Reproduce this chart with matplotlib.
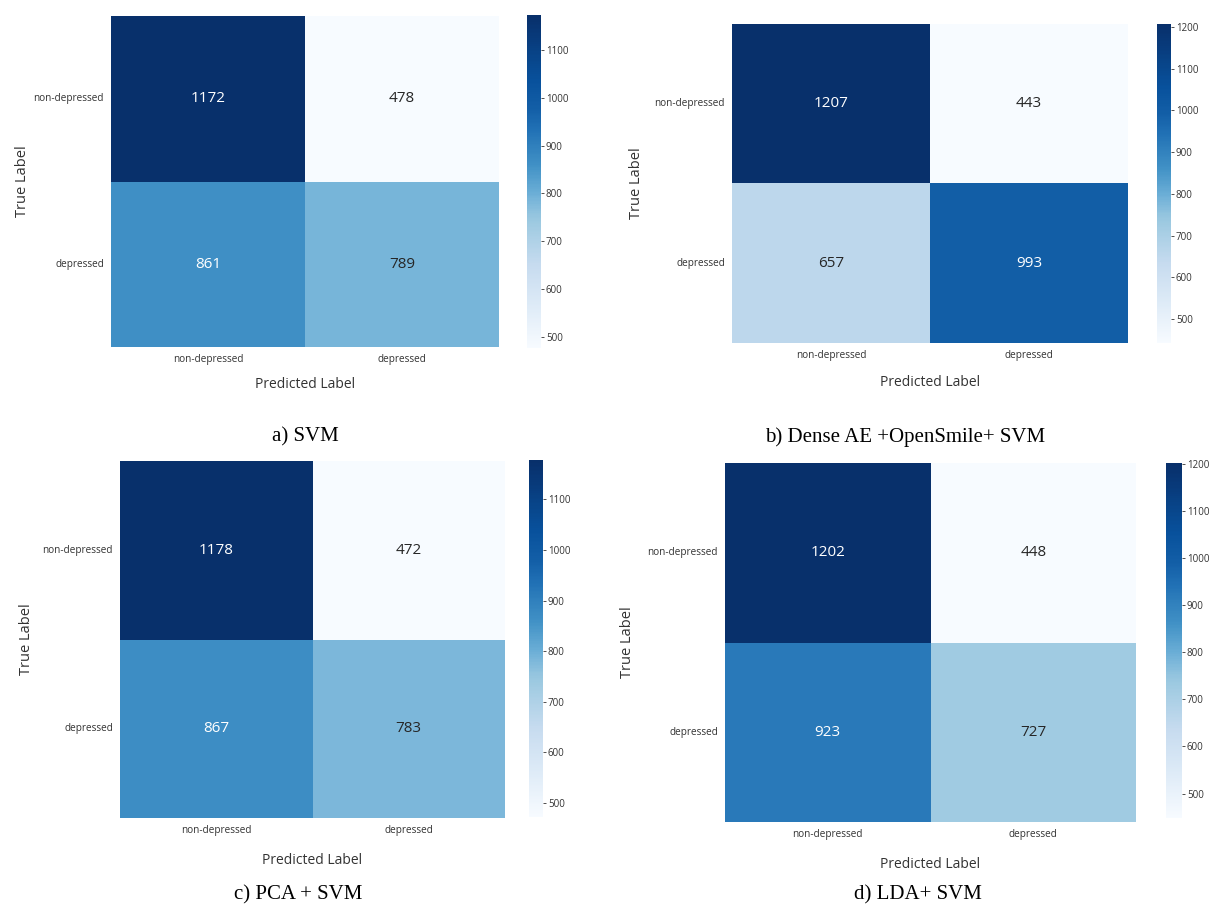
import matplotlib
matplotlib.use("Agg")
import matplotlib.pyplot as plt
from matplotlib.colors import ListedColormap
import numpy as np
import seaborn as sns

plt.rcParams['font.family'] = ['Open Sans', 'DejaVu Sans']

W, H = 1220, 907

class_labels = ["non-depressed", "depressed"]
svm_cm = [[1172, 478], [861, 789]]
dense_ae_cm = [[1207, 443], [657, 993]]
pca_cm = [[1178, 472], [867, 783]]
lda_cm = [[1202, 448], [923, 727]]
captions = ["a) SVM", "b) Dense AE +OpenSmile+ SVM", "c) PCA + SVM", "d) LDA+ SVM"]
cbar_ticks_a = [500, 600, 700, 800, 900, 1000, 1100]
cbar_ticks_b = [500, 600, 700, 800, 900, 1000, 1100, 1200]

# Blues, slightly more contrasted in the upper-middle range (as in the scan)
_base = plt.get_cmap("Blues")
_x = np.linspace(0, 1, 256)
_f = np.interp(_x, [0, 0.4, 0.55, 0.72, 1.0], [0, 0.4, 0.63, 0.82, 1.0])
cmap = ListedColormap(_base(_f))

fig = plt.figure(figsize=(W / 100, H / 100), dpi=100)


def box(l, t, r, b):
    return [l / W, 1 - b / H, (r - l) / W, (b - t) / H]


panels = [
    dict(hm=(111, 16, 499, 347), cb=(527, 15, 541, 348), xl=385, yl=22,
         cap=(305, 437), data=svm_cm, ticks=cbar_ticks_a),
    dict(hm=(732, 24, 1128, 343), cb=(1157, 24, 1171, 343), xl=382, yl=637,
         cap=(905, 437), data=dense_ae_cm, ticks=cbar_ticks_b),
    dict(hm=(120, 461, 505, 818), cb=(529, 460, 543, 817), xl=861, yl=27,
         cap=(298, 895), data=pca_cm, ticks=cbar_ticks_a),
    dict(hm=(725, 463, 1136, 822), cb=(1166, 463, 1182, 818), xl=865, yl=627,
         cap=(918, 895), data=lda_cm, ticks=cbar_ticks_b),
]

for i, p in enumerate(panels):
    ax = fig.add_axes(box(*p["hm"]))
    cax = fig.add_axes(box(*p["cb"]))
    data = np.array(p["data"])
    sns.heatmap(data, ax=ax, cbar_ax=cax, cmap=cmap, annot=True, fmt="d",
                annot_kws={"fontsize": 11},
                xticklabels=class_labels, yticklabels=class_labels)
    ax.tick_params(axis="both", length=0, labelsize=7.2, colors="#333333", pad=5)
    ax.set_yticklabels(class_labels, rotation=0)
    ax.set_xticklabels(class_labels, rotation=0)
    ax.set_xlabel("")
    ax.set_ylabel("")
    l, t, r, b = p["hm"]
    fig.text(((l + r) / 2) / W, 1 - p["xl"] / H, "Predicted Label", ha="center",
             va="center", fontsize=10, fontweight="medium", color="#333333")
    fig.text(p["yl"] / W, 1 - ((t + b) / 2) / H, "True Label", ha="center",
             va="center", rotation=90, fontsize=10.5, fontweight="medium",
             color="#333333")
    cax.set_yticks(p["ticks"])
    cax.tick_params(labelsize=7, length=2.5, width=0.6, colors="#333333", pad=1)
    cx, cy = p["cap"]
    fig.text(cx / W, 1 - cy / H, captions[i], ha="center", va="center",
             fontsize=15, family="Liberation Serif", color="black")

fig.savefig("out.png", dpi=100)
